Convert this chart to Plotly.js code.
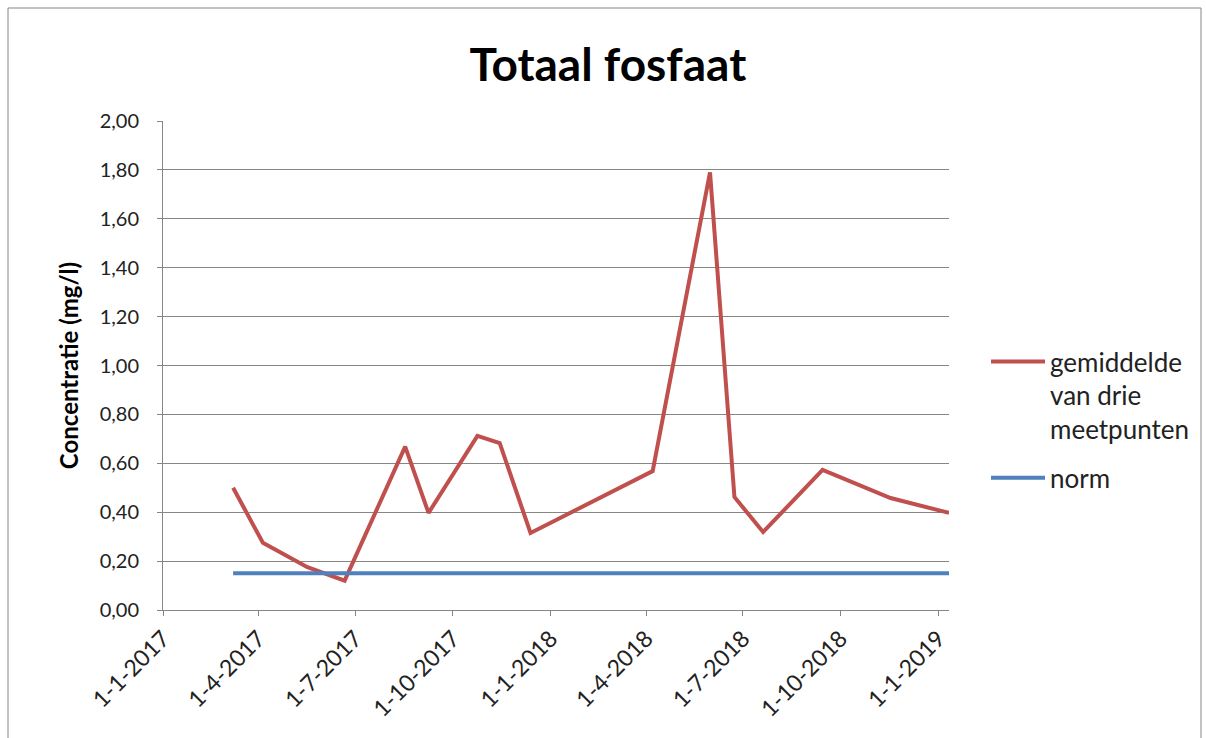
<!DOCTYPE html>
<html>
<head>
<meta charset="utf-8">
<script src="https://cdn.plot.ly/plotly-3.0.1.min.js"></script>
<style>
  html, body { margin: 0; padding: 0; background: #fff; }
  #chart { width: 1206px; height: 738px; }
</style>
</head>
<body>
<div id="chart"></div>
<script>
const dates = ["2017-03-08","2017-04-05","2017-05-17","2017-06-21","2017-08-17","2017-09-08",
               "2017-10-24","2017-11-14","2017-12-13","2018-04-07","2018-05-31","2018-06-23",
               "2018-07-20","2018-09-14","2018-11-17","2019-01-11"];
const gemiddelde = [0.50,0.275,0.175,0.12,0.668,0.397,0.712,0.683,0.315,0.568,1.79,0.462,0.319,0.573,0.458,0.397];
const normDates = ["2017-03-08","2019-01-11"];
const normValues = [0.15,0.15];
const tickDates = ["2017-01-01","2017-04-01","2017-07-01","2017-10-01","2018-01-01","2018-04-01","2018-07-01","2018-10-01","2019-01-01"];
const tickLabels = ["1-1-2017","1-4-2017","1-7-2017","1-10-2017","1-1-2018","1-4-2018","1-7-2018","1-10-2018","1-1-2019"];

const font = "Lato, 'Open Sans', sans-serif";

const traces = [
  {x: dates, y: gemiddelde, type: 'scatter', mode: 'lines', name: 'gemiddelde<br>van drie<br>meetpunten',
   legendgroup: 'a', line: {color: '#C0504D', width: 4}},
  {x: normDates, y: normValues, type: 'scatter', mode: 'lines', name: 'norm',
   legendgroup: 'b', line: {color: '#4F81BD', width: 4}}
];

const layout = {
  width: 1206, height: 738,
  margin: {l: 163, r: 257, t: 121, b: 128},
  paper_bgcolor: '#fff', plot_bgcolor: '#fff',
  separators: ',.',
  font: {family: font, color: '#222', size: 19},
  title: {text: '<b>Totaal fosfaat</b>', font: {family: font, size: 46, color: '#000'},
          x: 0.504, xanchor: 'center', y: 0.912, yanchor: 'middle'},
  xaxis: {
    type: 'date', range: ['2017-01-01', '2019-01-11'], automargin: false,
    tickmode: 'array', tickvals: tickDates, ticktext: tickLabels, tickangle: -45,
    ticks: 'outside', ticklen: 5, tickcolor: '#868686', tickwidth: 1,
    showgrid: false, showline: true, linecolor: '#868686', linewidth: 1,
    zeroline: false, tickfont: {size: 23, color: '#222'}
  },
  yaxis: {
    range: [0, 2], tickmode: 'array', tickvals: [0,0.2,0.4,0.6,0.8,1.0,1.2,1.4,1.6,1.8,2.0],
    tickformat: '.2f', automargin: false,
    ticks: 'outside', ticklen: 5, tickcolor: '#868686', tickwidth: 1,
    ticklabelstandoff: 14,
    showgrid: true, gridcolor: '#868686', gridwidth: 1,
    showline: true, linecolor: '#868686', linewidth: 1, zeroline: false,
    tickfont: {size: 20, color: '#222'},
    title: {text: '<b>Concentratie (mg/l)</b>', font: {size: 24, color: '#000'}, standoff: 14}
  },
  legend: {xref: 'container', yref: 'container', x: 0.8176, xanchor: 'left', y: 0.542, yanchor: 'top',
           valign: 'top', itemwidth: 54,
           font: {size: 26, color: '#222'}, tracegroupgap: 12, bgcolor: 'rgba(0,0,0,0)'},
  shapes: [
    {type: 'rect', xref: 'paper', yref: 'paper',
     x0: (8-163)/786, x1: (1201-163)/786, y0: (610-745)/489, y1: (610-8)/489,
     line: {color: '#868686', width: 1}, fillcolor: 'rgba(0,0,0,0)', layer: 'below'}
  ]
};

Plotly.newPlot('chart', traces, layout, {displayModeBar: false, staticPlot: true});
</script>
</body>
</html>
